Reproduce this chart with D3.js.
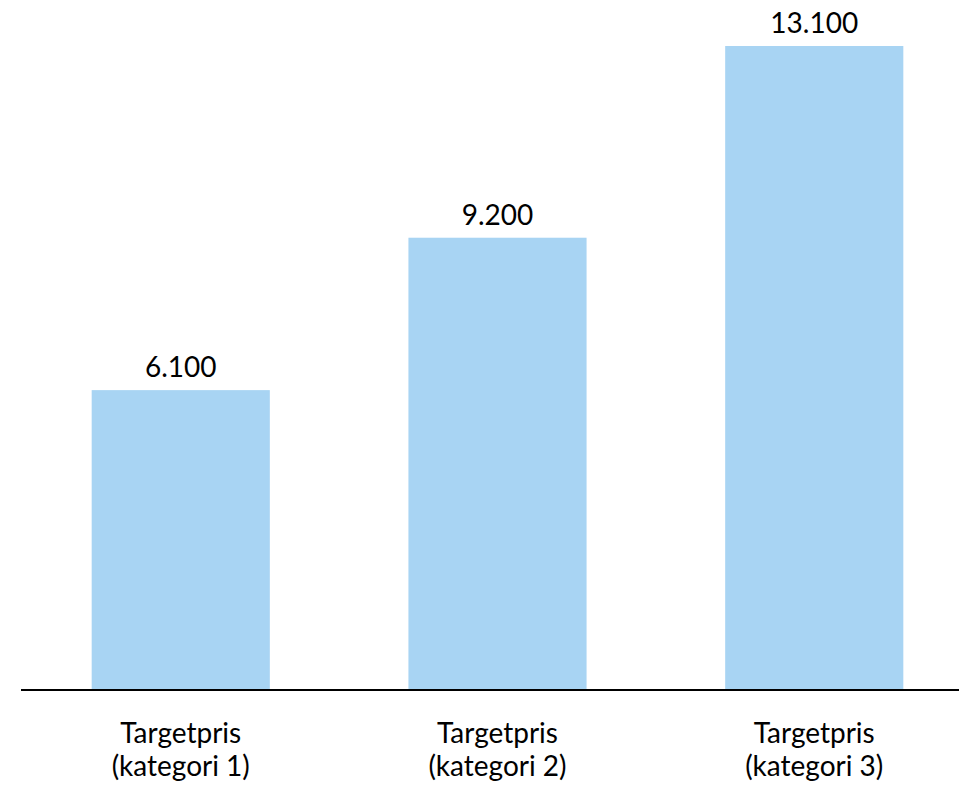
<!DOCTYPE html>
<html>
<head>
<meta charset="utf-8">
<script src="https://cdn.jsdelivr.net/npm/d3@7"></script>
<style>
  body { margin: 0; background: #fff; }
  text { font-family: Lato, "Open Sans", sans-serif; fill: #000; }
</style>
</head>
<body>
<div id="chart"></div>
<script>
var categories = ["Targetpris (kategori 1)", "Targetpris (kategori 2)", "Targetpris (kategori 3)"];
var values = [6100, 9200, 13100];

var width = 959, height = 785;
var baseY = 690;

var svg = d3.select("#chart").append("svg")
    .attr("width", width)
    .attr("height", height);

var x = d3.scaleBand()
    .domain(categories)
    .range([22, 973])
    .paddingInner(0.4376)
    .paddingOuter(0.22);

var y = d3.scaleLinear()
    .domain([0, 13100])
    .range([baseY, 46]);

var fmt = d3.formatLocale({decimal: ",", thousands: ".", grouping: [3], currency: ["", " kr."]}).format(",");

var data = categories.map(function (c, i) { return {cat: c, val: values[i]}; });

svg.selectAll("rect.bar").data(data).enter()
    .append("rect")
    .attr("class", "bar")
    .attr("x", function (d) { return x(d.cat); })
    .attr("y", function (d) { return y(d.val); })
    .attr("width", x.bandwidth())
    .attr("height", function (d) { return y(0) - y(d.val); })
    .attr("fill", "#a8d4f3");

svg.selectAll("text.val").data(data).enter()
    .append("text")
    .attr("class", "val")
    .attr("x", function (d) { return x(d.cat) + x.bandwidth() / 2; })
    .attr("y", function (d) { return y(d.val) - 13; })
    .attr("text-anchor", "middle")
    .style("font-size", "28px")
    .text(function (d) { return fmt(d.val); });

// baseline
svg.append("line")
    .attr("x1", 21).attr("x2", width)
    .attr("y1", baseY).attr("y2", baseY)
    .attr("stroke", "#000")
    .attr("stroke-width", 2);

// category labels, two lines
var lab = svg.selectAll("text.cat").data(data).enter()
    .append("text")
    .attr("class", "cat")
    .attr("text-anchor", "middle")
    .style("font-size", "28px");

lab.each(function (d) {
    var parts = d.cat.split(" ");
    var cx = x(d.cat) + x.bandwidth() / 2;
    d3.select(this).append("tspan").attr("x", cx).attr("y", 743).text(parts[0]);
    d3.select(this).append("tspan").attr("x", cx).attr("y", 776).text(parts.slice(1).join(" "));
});
</script>
</body>
</html>
